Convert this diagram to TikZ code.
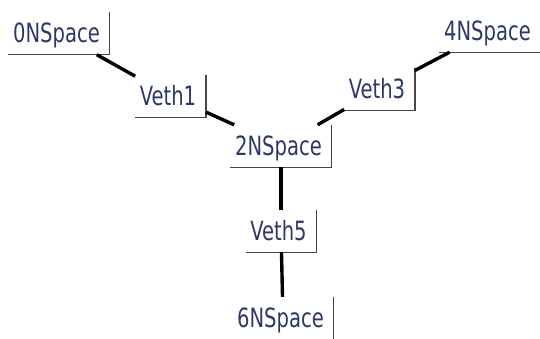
\documentclass[tikz,border=0pt]{standalone}
\usepackage{fontspec}
\setmainfont{DejaVu Sans Condensed}[FakeStretch=0.82]
\definecolor{labelblue}{RGB}{45,55,105}
\definecolor{edgegray}{RGB}{70,70,70}

\tikzset{
  box/.style={inner xsep=4.5pt, inner ysep=8pt, text height=22pt, text depth=4pt,
    text=labelblue, font=\fontsize{26.5}{30}\selectfont,
    execute at end node={\hspace*{5pt}},
    append after command={
      \pgfextra{\draw[edgegray, line width=1.4pt]
        (\tikzlastnode.north east) -- (\tikzlastnode.south east)
        -- (\tikzlastnode.south west);}}},
  link/.style={line width=3.4pt, black}
}

\begin{document}
\begin{tikzpicture}[x=1pt, y=-1pt]
\useasboundingbox (0,0) rectangle (540,338);

\node[box] (ns0) at (59, 33.5) {0NSpace};
\node[box] (veth1) at (170.5, 96) {Veth1};
\node[box] (ns2) at (281, 146) {2NSpace};
\node[box] (veth3) at (379.5, 89) {Veth3};
\node[box] (ns4) at (490, 31) {4NSpace};
\node[box] (veth5) at (281, 231) {Veth5};
\node[box] (ns6) at (283, 318) {6NSpace};

\draw[link] (ns0) -- (veth1);
\draw[link] (veth1) -- (ns2);
\draw[link] (ns2) -- (veth3);
\draw[link] (veth3) -- (ns4);
\draw[link] (ns2) -- (veth5);
\draw[link] (veth5) -- (ns6);

\end{tikzpicture}
\end{document}
